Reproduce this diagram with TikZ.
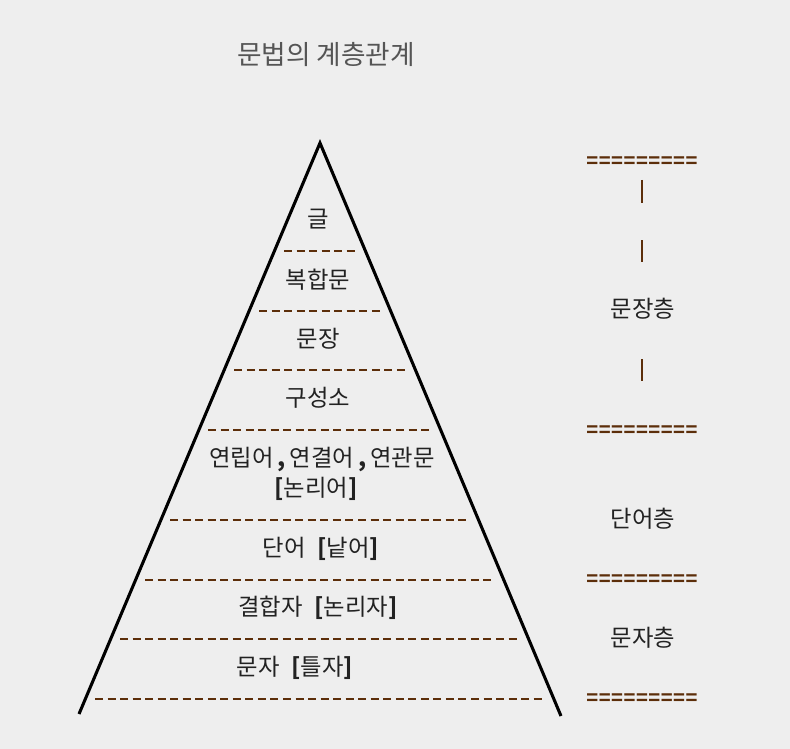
\documentclass[tikz,border=0pt]{standalone}
\usepackage{fontspec}
\newfontfamily\kr{Noto Sans CJK KR}
\newfontfamily\eqfont{Liberation Mono}
\definecolor{bg}{HTML}{EEEEEE}
\definecolor{brn}{HTML}{5C2E0A}
\definecolor{ink}{HTML}{222222}
\definecolor{ttl}{HTML}{555555}
\begin{document}
\begin{tikzpicture}[x=0.75pt,y=-0.75pt,
  lbl/.style={font=\kr\fontsize{17.5}{22}\selectfont, text=ink, inner sep=0pt, align=center},
  layer/.style={font=\kr\fontsize{17.5}{22}\selectfont, text=ink, inner sep=0pt},
  eqs/.style={font=\eqfont\bfseries\fontsize{15.5}{19}\selectfont, text=brn, inner sep=0pt},
  bar/.style={draw=brn, line width=1.4pt},
  sep/.style={draw=brn, line width=1.5pt, dash pattern=on 6pt off 3.4pt},
  tri/.style={draw=black, line width=2.3pt, line join=miter}]
\fill[bg] (0,0) rectangle (790,749);
\useasboundingbox (0,0) rectangle (790,749);
% title
\node[font=\kr\fontsize{20}{24}\selectfont, text=ttl, inner sep=0pt] (title) at (326,55) {문법의 계층관계};
% triangle
\coordinate (apex) at (320,143);
\coordinate (bl) at (79,714);
\coordinate (br) at (561,716);
\draw[tri] (bl) -- (apex) -- (br);
% separators
\draw[sep] (284,251) -- (356,251);
\draw[sep] (259,311) -- (381,311);
\draw[sep] (234,370) -- (406,370);
\draw[sep] (208,430) -- (432,430);
\draw[sep] (170,520) -- (470,520);
\draw[sep] (145,580) -- (495,580);
\draw[sep] (120,639) -- (520,639);
\draw[sep] (95,699) -- (545,699);
% level labels
\node[lbl] (l1) at (318,219) {글};
\node[lbl] (l2) at (318,280) {복합문};
\node[lbl] (l3) at (318,339) {문장};
\node[lbl] (l4) at (318,398) {구성소};
\node[lbl] (l5a) at (322,459) {연립어\,{\bfseries,}\,연결어\,{\bfseries,}\,연관문};
\node[lbl] (l5b) at (316,489) {{\bfseries[}논리어{\bfseries]}};
\node[lbl] (l6) at (321,549) {단어\enspace{\bfseries[}낱어{\bfseries]}};
\node[lbl] (l7) at (318,608) {결합자\enspace{\bfseries[}논리자{\bfseries]}};
\node[lbl] (l8) at (295,668) {문자\enspace{\bfseries[}틀자{\bfseries]}};
% right column
\node[eqs] (e1) at (642,162) {=========};
\node[eqs] (e2) at (642,431) {=========};
\node[eqs] (e3) at (642,580) {=========};
\node[eqs] (e4) at (642,699) {=========};
\coordinate (b1t) at (642,180); \coordinate (b1b) at (642,203);
\coordinate (b2t) at (642,240); \coordinate (b2b) at (642,262);
\coordinate (b3t) at (642,359); \coordinate (b3b) at (642,381);
\draw[bar] (b1t) -- (b1b);
\draw[bar] (b2t) -- (b2b);
\draw[bar] (b3t) -- (b3b);
\node[layer] (s1) at (643,309) {문장층};
\node[layer] (s2) at (643,519) {단어층};
\node[layer] (s3) at (643,638) {문자층};
\end{tikzpicture}
\end{document}
